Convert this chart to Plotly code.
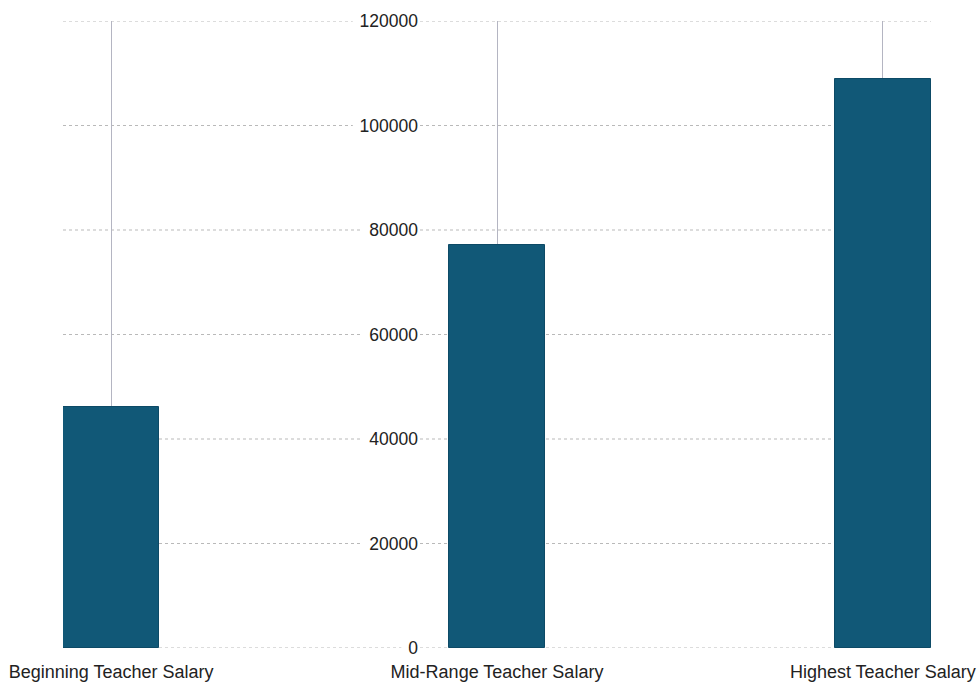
import plotly.graph_objects as go

# Salary data
categories = ["Beginning Teacher Salary", "Mid-Range Teacher Salary", "Highest Teacher Salary"]
salaries = [46100, 77100, 108900]
y_ticks = [0, 20000, 40000, 60000, 80000, 100000, 120000]

BAR_COLOR = "#115877"
HGRID = "#b9b9b9"
VGRID = "#b4b5c2"
FONT = "Liberation Sans, Arial, sans-serif"

# plot geometry (pixels) used to place grid gaps around tick labels
PLOT_L, PLOT_R = 63, 931
X_MIN, X_MAX = -0.125, 2.125
PX_PER_UNIT = (PLOT_R - PLOT_L) / (X_MAX - X_MIN)
AXIS_POS_PX = 418
LABEL_CHAR_PX = 9.7

fig = go.Figure()
fig.add_trace(go.Bar(
    x=list(range(len(categories))),
    y=salaries,
    width=0.25,
    marker=dict(color=BAR_COLOR, line=dict(color="#0d4a66", width=1)),
    hoverinfo="x+y",
))

# horizontal grid lines, broken around each tick label
def px_to_x(px):
    return X_MIN + (px - PLOT_L) / PX_PER_UNIT

shapes = []
for t in y_ticks:
    w = len(str(t)) * LABEL_CHAR_PX
    gap_l = px_to_x(AXIS_POS_PX - 3 - w - 4)
    gap_r = px_to_x(AXIS_POS_PX + 2)
    for x0, x1 in [(X_MIN, gap_l), (gap_r, X_MAX)]:
        shapes.append(dict(type="line", xref="x", yref="y", x0=x0, x1=x1, y0=t, y1=t,
                           line=dict(color=HGRID, width=1, dash="dot"), layer="below"))

fig.update_layout(
    width=980, height=685,
    margin=dict(l=PLOT_L, r=980 - PLOT_R, t=21, b=37, autoexpand=False),
    paper_bgcolor="white", plot_bgcolor="white",
    showlegend=False,
    bargap=0,
    shapes=shapes,
    font=dict(family=FONT, size=17.5, color="#222222"),
    xaxis=dict(
        range=[X_MIN, X_MAX],
        tickmode="array",
        tickvals=list(range(len(categories))),
        ticktext=categories,
        showgrid=True, gridcolor=VGRID, gridwidth=1,
        zeroline=False, showline=False, ticks="",
        ticklabelstandoff=11,
        automargin=False,
        tickfont=dict(size=18),
    ),
    yaxis=dict(
        range=[0, 120000],
        tickmode="array",
        tickvals=y_ticks,
        ticktext=[str(t) for t in y_ticks],
        showgrid=False, zeroline=False, showline=False, ticks="",
        anchor="free",
        position=(AXIS_POS_PX - PLOT_L) / (PLOT_R - PLOT_L),
        automargin=False,
        tickfont=dict(size=17.5),
    ),
)

fig.write_html("out.html")
